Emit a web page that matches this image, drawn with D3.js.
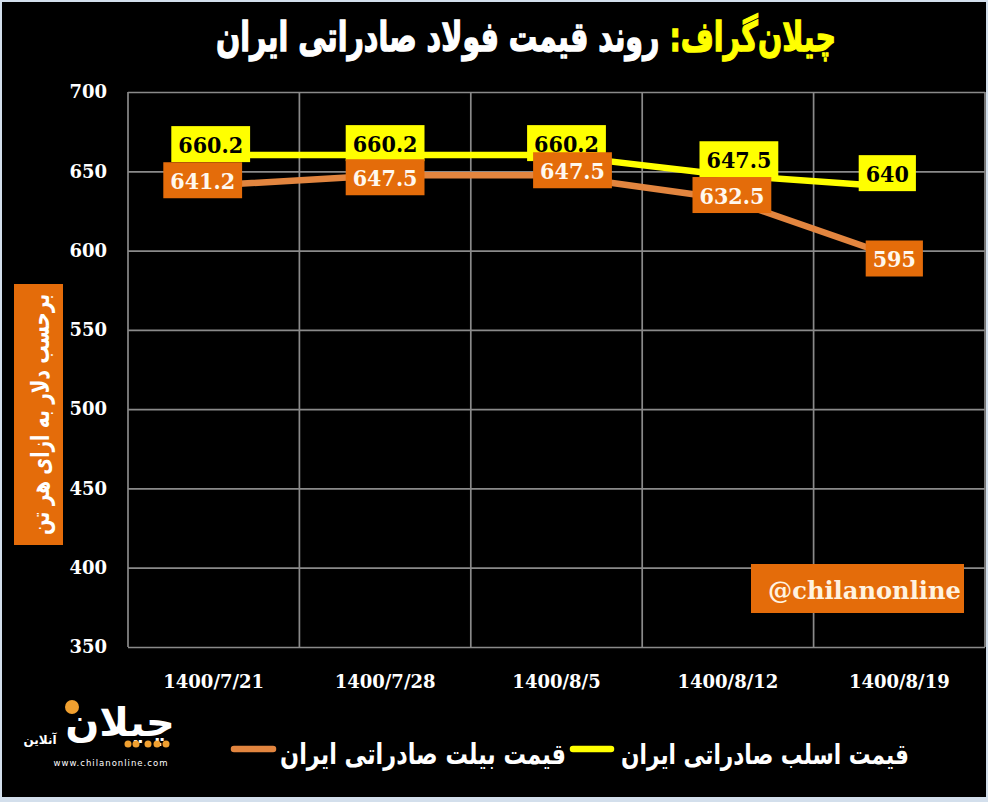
<!DOCTYPE html>
<html><head><meta charset="utf-8">
<script src="https://cdn.jsdelivr.net/npm/d3@7"></script>
<style>
html,body{margin:0;padding:0;background:#d3dfec;}
svg{display:block;}
</style></head>
<body>
<svg id="chart" width="988" height="802"></svg>
<script>
// ---- data ----
const categories = ["1400/7/21","1400/7/28","1400/8/5","1400/8/12","1400/8/19"];
const slabPrices = [660.2, 660.2, 660.2, 647.5, 640];
const billetPrices = [641.2, 647.5, 647.5, 632.5, 595];
const yTicks = [350, 400, 450, 500, 550, 600, 650, 700];
const seriesNames = ["قیمت اسلب صادراتی ایران", "قیمت بیلت صادراتی ایران"];
const titleBrand = "چیلان\u200cگراف:";
const titleMain = " روند قیمت فولاد صادراتی ایران";
const yTitle = "برحسب دلار به ازای هر تن";
const watermark = "@chilanonline";

// label nudges (layout only)
const slabLabelNudge = [[-3,-11],[0,-12],[10,-12],[11,-16],[-12,-14]];
const billetLabelNudge = [[-11,-5],[0,2],[16,-5],[4,-4],[-5,0]];

const YELLOW = "#ffff00", ORANGE_BOX = "#e46c0a", ORANGE_LINE = "#e2853f", GRID = "#8a8a8a";
const SERIF = "'DejaVu Serif', serif";
const ARAB = "'DejaVu Sans', sans-serif";

const svg = d3.select("#chart");
svg.append("rect").attr("x",2).attr("y",2).attr("width",984).attr("height",795).attr("fill","#000");

const plot = {left:128, right:985, top:92, bottom:647};
const x = d3.scaleBand().domain(categories).range([plot.left, plot.right]).padding(0);
const y = d3.scaleLinear().domain([350,700]).range([plot.bottom, plot.top]);
const cx = d => x(d) + x.bandwidth()/2;

function fitWidth(sel, target){
  const w = sel.node().getComputedTextLength();
  const fs = parseFloat(sel.attr("font-size"));
  sel.attr("font-size", fs*target/w);
}

// horizontal gridlines + y tick labels via axis
const yAxis = d3.axisLeft(y).tickValues(yTicks).tickSize(-(plot.right-plot.left)).tickPadding(21).tickFormat(d3.format("d"));
const gy = svg.append("g").attr("transform",`translate(${plot.left},0)`).call(yAxis);
gy.select(".domain").remove();
gy.selectAll(".tick line").attr("stroke",GRID).attr("stroke-width",1.7);
gy.selectAll(".tick text").attr("fill","#fff").attr("font-family",SERIF).attr("font-weight","bold").attr("font-size",18);

// vertical gridlines at category boundaries
const bounds = categories.map(c => x(c)).concat([x.range()[1]]);
svg.append("g").selectAll("line").data(bounds).join("line")
  .attr("x1",d=>d).attr("x2",d=>d).attr("y1",plot.top).attr("y2",plot.bottom)
  .attr("stroke",GRID).attr("stroke-width",1.7);

// x axis labels
const xAxis = d3.axisBottom(x).tickSize(0).tickPadding(0);
const gx = svg.append("g").attr("transform",`translate(0,${plot.bottom})`).call(xAxis);
gx.select(".domain").remove();
gx.selectAll(".tick text").attr("fill","#fff").attr("font-family",SERIF).attr("font-weight","bold")
  .attr("font-size",18).attr("dy",null).attr("y",41);

// lines
const line = d3.line().x((d,i)=>cx(categories[i])).y(d=>y(d));
svg.append("path").datum(billetPrices).attr("d",line).attr("fill","none").attr("stroke",ORANGE_LINE).attr("stroke-width",6.5).attr("stroke-linejoin","round");
svg.append("path").datum(slabPrices).attr("d",line).attr("fill","none").attr("stroke",YELLOW).attr("stroke-width",6.5).attr("stroke-linejoin","round");

// data labels
function labels(values, nudge, boxFill, textFill){
  const g = svg.append("g");
  values.forEach((v,i)=>{
    const px = cx(categories[i]) + nudge[i][0];
    const py = y(v) + nudge[i][1];
    const lg = g.append("g");
    const rect = lg.append("rect").attr("fill",boxFill);
    const t = lg.append("text").attr("x",px).attr("y",py).attr("text-anchor","middle").attr("dominant-baseline","central")
      .attr("font-family","'DejaVu Serif Condensed','DejaVu Serif',serif").attr("font-stretch","condensed")
      .attr("font-weight","bold").attr("font-size",23).attr("fill",textFill).text(v);
    const w = t.node().getComputedTextLength();
    rect.attr("x",px - w/2 - 7).attr("y",py-18).attr("width",w+14).attr("height",36);
  });
}
labels(slabPrices, slabLabelNudge, YELLOW, "#000");
labels(billetPrices, billetLabelNudge, ORANGE_BOX, "#fff8ee");

// title (condensed heavy look: fit width, stretch vertically)
const titleG = svg.append("g").attr("transform","translate(526,51) scale(1,1.45)");
const title = titleG.append("text").attr("x",0).attr("y",0).attr("text-anchor","middle").attr("direction","rtl")
  .attr("font-family",ARAB).attr("font-weight","bold").attr("font-size",34).attr("stroke-width",0.9);
title.append("tspan").attr("fill",YELLOW).attr("stroke",YELLOW).text(titleBrand);
title.append("tspan").attr("fill","#fff").attr("stroke","#fff").text(titleMain);
fitWidth(title, 620);

// y-axis title box
svg.append("rect").attr("x",14).attr("y",284).attr("width",49).attr("height",261).attr("fill",ORANGE_BOX);
const ytG = svg.append("g").attr("transform","translate(40,414.5) rotate(-90) scale(1,1.35)");
const yt = ytG.append("text").attr("text-anchor","middle")
  .attr("dominant-baseline","central").attr("direction","rtl")
  .attr("font-family",ARAB).attr("font-weight","bold").attr("font-size",22).attr("fill","#fff").text(yTitle);
fitWidth(yt, 241);

// watermark
svg.append("rect").attr("x",751).attr("y",564).attr("width",213).attr("height",49).attr("fill",ORANGE_BOX);
const wm = svg.append("text").attr("x",864.5).attr("y",590).attr("text-anchor","middle").attr("dominant-baseline","central")
  .attr("font-family",SERIF).attr("font-weight","bold").attr("font-size",21).attr("fill","#fff3e0").text(watermark);
fitWidth(wm, 193);

// legend
const legendItems = [
  {name: seriesNames[0], color: YELLOW, textRight: 909, textWidth: 288, mark:[570,614]},
  {name: seriesNames[1], color: ORANGE_LINE, textRight: 566, textWidth: 286, mark:[231,276]}
];
legendItems.forEach(it=>{
  const g = svg.append("g").attr("transform",`translate(${it.textRight},764) scale(1,1.28)`);
  const t = g.append("text").attr("x",0).attr("y",0).attr("text-anchor","start").attr("direction","rtl")
    .attr("font-family",ARAB).attr("font-weight","bold").attr("font-size",26).attr("fill","#fff").text(it.name);
  fitWidth(t, it.textWidth);
  svg.append("line").attr("x1",it.mark[0]+3).attr("x2",it.mark[1]-3).attr("y1",749).attr("y2",749)
    .attr("stroke",it.color).attr("stroke-width",6.5).attr("stroke-linecap","round");
});

// logo
const logo = svg.append("g");
logo.append("text").attr("x",120).attr("y",736).attr("text-anchor","middle").attr("direction","rtl")
  .attr("font-family",ARAB).attr("font-weight","bold").attr("font-size",40).attr("fill","#fff").text("چیلان");
logo.append("circle").attr("cx",72).attr("cy",707).attr("r",7).attr("fill","#f0a030");
[128,136,148,157,166].forEach(px=>logo.append("circle").attr("cx",px).attr("cy",744).attr("r",3.5).attr("fill","#f0a030"));
logo.append("text").attr("x",40).attr("y",744).attr("text-anchor","middle").attr("direction","rtl")
  .attr("font-family",ARAB).attr("font-weight","bold").attr("font-size",12).attr("fill","#fff").text("آنلاین");
logo.append("text").attr("x",111).attr("y",766).attr("text-anchor","middle")
  .attr("font-family",ARAB).attr("font-size",8.5).attr("letter-spacing",1).attr("fill","#fff").text("www.chilanonline.com");
</script>
</body></html>
